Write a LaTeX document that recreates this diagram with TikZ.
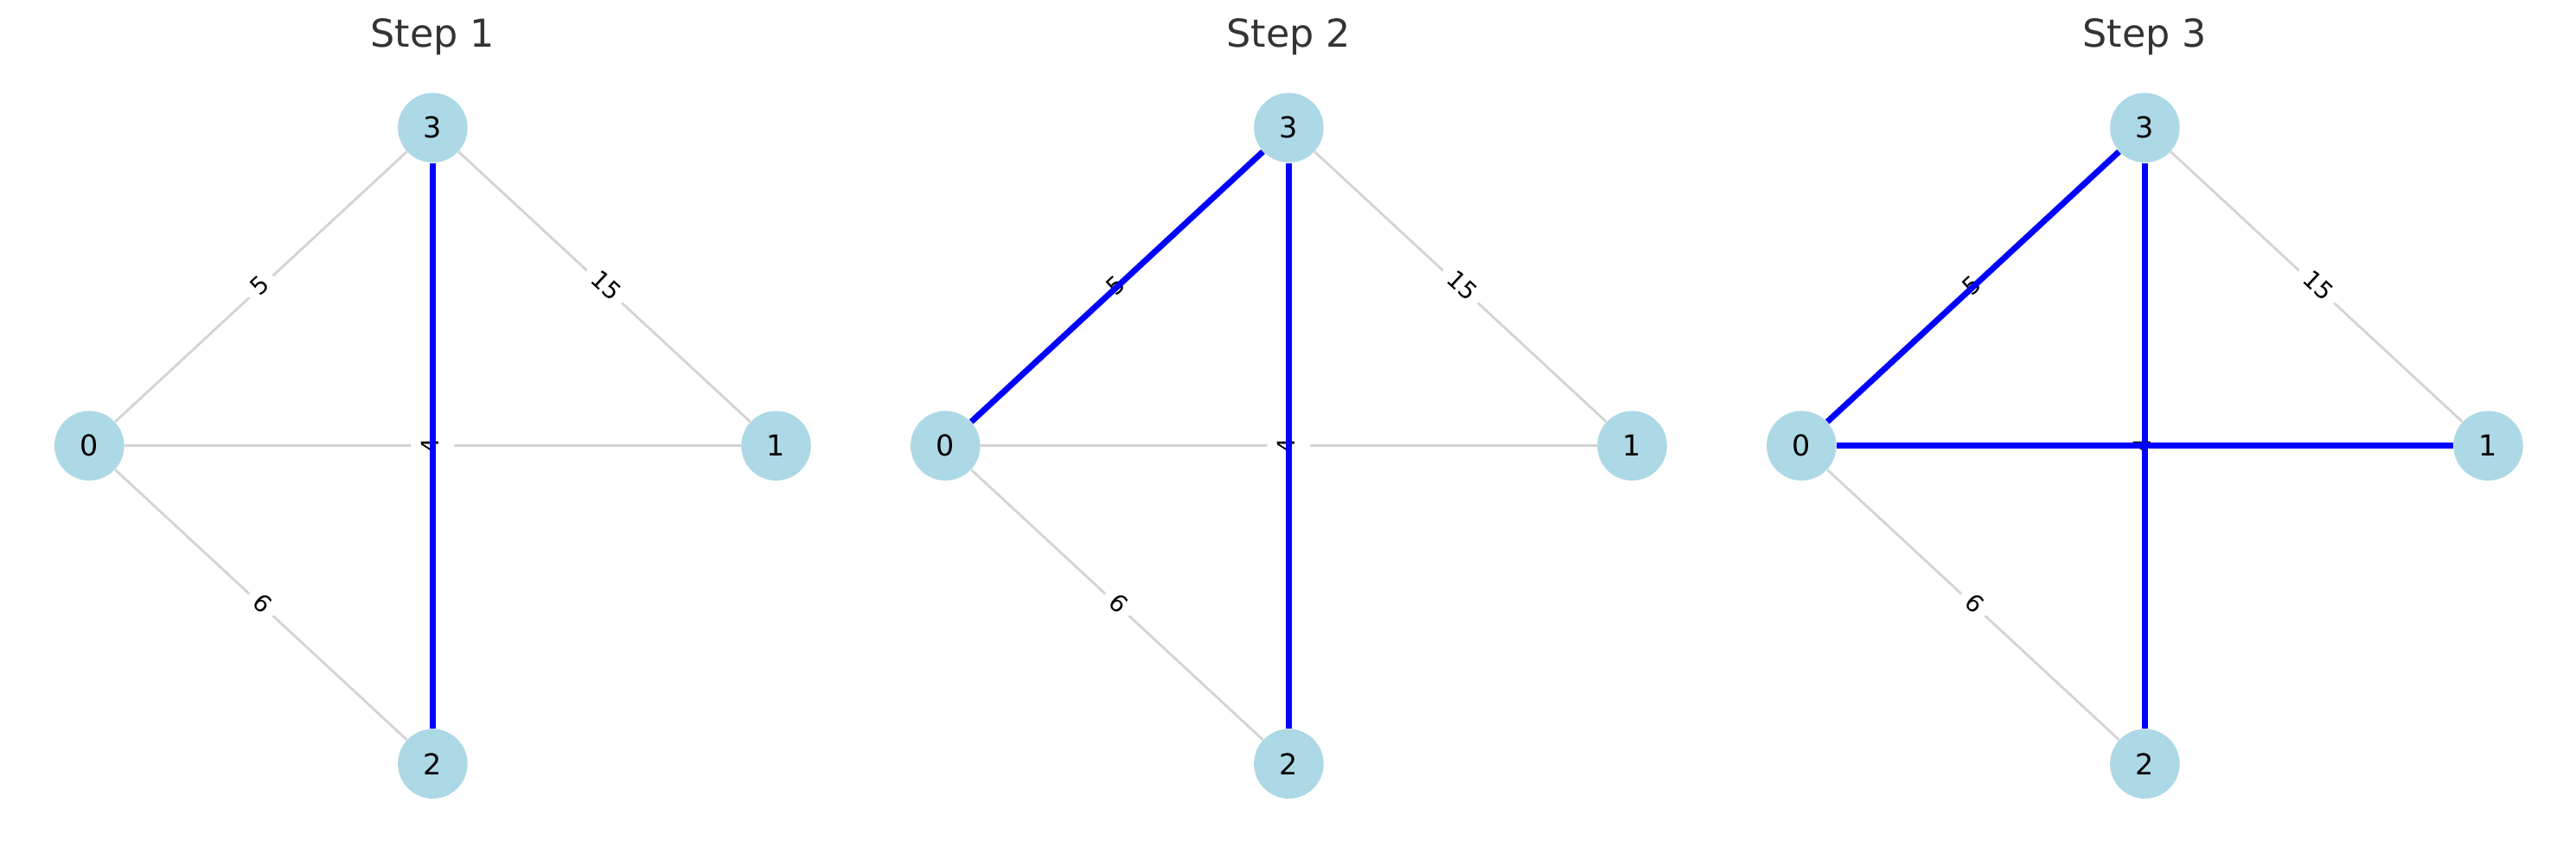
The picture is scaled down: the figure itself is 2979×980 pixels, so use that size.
\documentclass[tikz,border=0pt]{standalone}
\usepackage{fontspec}
\setmainfont{DejaVu Sans}
\usetikzlibrary{calc}
\definecolor{nodeblue}{HTML}{ADD8E6}
\definecolor{edgegray}{HTML}{D3D3D3}
\definecolor{titlegray}{HTML}{333333}
\pgfdeclarelayer{bg}
\pgfsetlayers{bg,main}
\tikzset{
  gnode/.style={circle, fill=nodeblue, draw=none, minimum size=29pt, inner sep=0pt,
    font=\fontsize{12}{14}\selectfont, text=black},
  gedge/.style={draw=edgegray, line width=1pt},
  bedge/.style={draw=blue, line width=2.5pt},
  elabel/.style={fill=white, rounded corners=3pt, inner xsep=3.5pt, inner ysep=4pt,
    font=\fontsize{10}{12}\selectfont, text=black, text height=7.6pt, text depth=2.4pt},
  ttl/.style={font=\fontsize{16}{19}\selectfont, text=titlegray, anchor=base}
}
\newcommand\mypanel[4]{%
  \node[ttl] (#1t) at ({#2+500.4},55) {#3};
  \node[gnode] (#1n0) at ({#2+103.3},515.75) {0};
  \node[gnode] (#1n1) at ({#2+897.5},515.75) {1};
  \node[gnode] (#1n2) at ({#2+500.4},883.7) {2};
  \node[gnode] (#1n3) at ({#2+500.4},147.8) {3};
  \begin{pgfonlayer}{bg}
    \draw[gedge] (#1n0) -- (#1n3);
    \draw[gedge] (#1n3) -- (#1n1);
    \draw[gedge] (#1n0) -- (#1n2);
    \draw[gedge] (#1n0) -- (#1n1);
    \draw[gedge] (#1n3) -- (#1n2);
    \node[elabel, rotate=42.83] (#1l5) at ($(#1n0)!0.5!(#1n3)$) {5};
    \node[elabel, rotate=-42.83] (#1l15) at ($(#1n3)!0.5!(#1n1)$) {15};
    \node[elabel, rotate=-42.83] (#1l6) at ($(#1n0)!0.5!(#1n2)$) {6};
    \node[elabel, rotate=90] (#1l4) at ($(#1n3)!0.5!(#1n2)$) {4};
    \foreach \a/\b in {#4} {\draw[bedge] (#1n\a) -- (#1n\b);}
  \end{pgfonlayer}
}
\begin{document}
\begin{tikzpicture}[x=0.36pt, y=-0.36pt]
  \useasboundingbox (0,0) rectangle (2979,980);
  \mypanel{pa}{0}{Step 1}{3/2}
  \mypanel{pb}{990}{Step 2}{3/2,0/3}
  \mypanel{pc}{1980}{Step 3}{3/2,0/3,0/1}
\end{tikzpicture}
\end{document}
